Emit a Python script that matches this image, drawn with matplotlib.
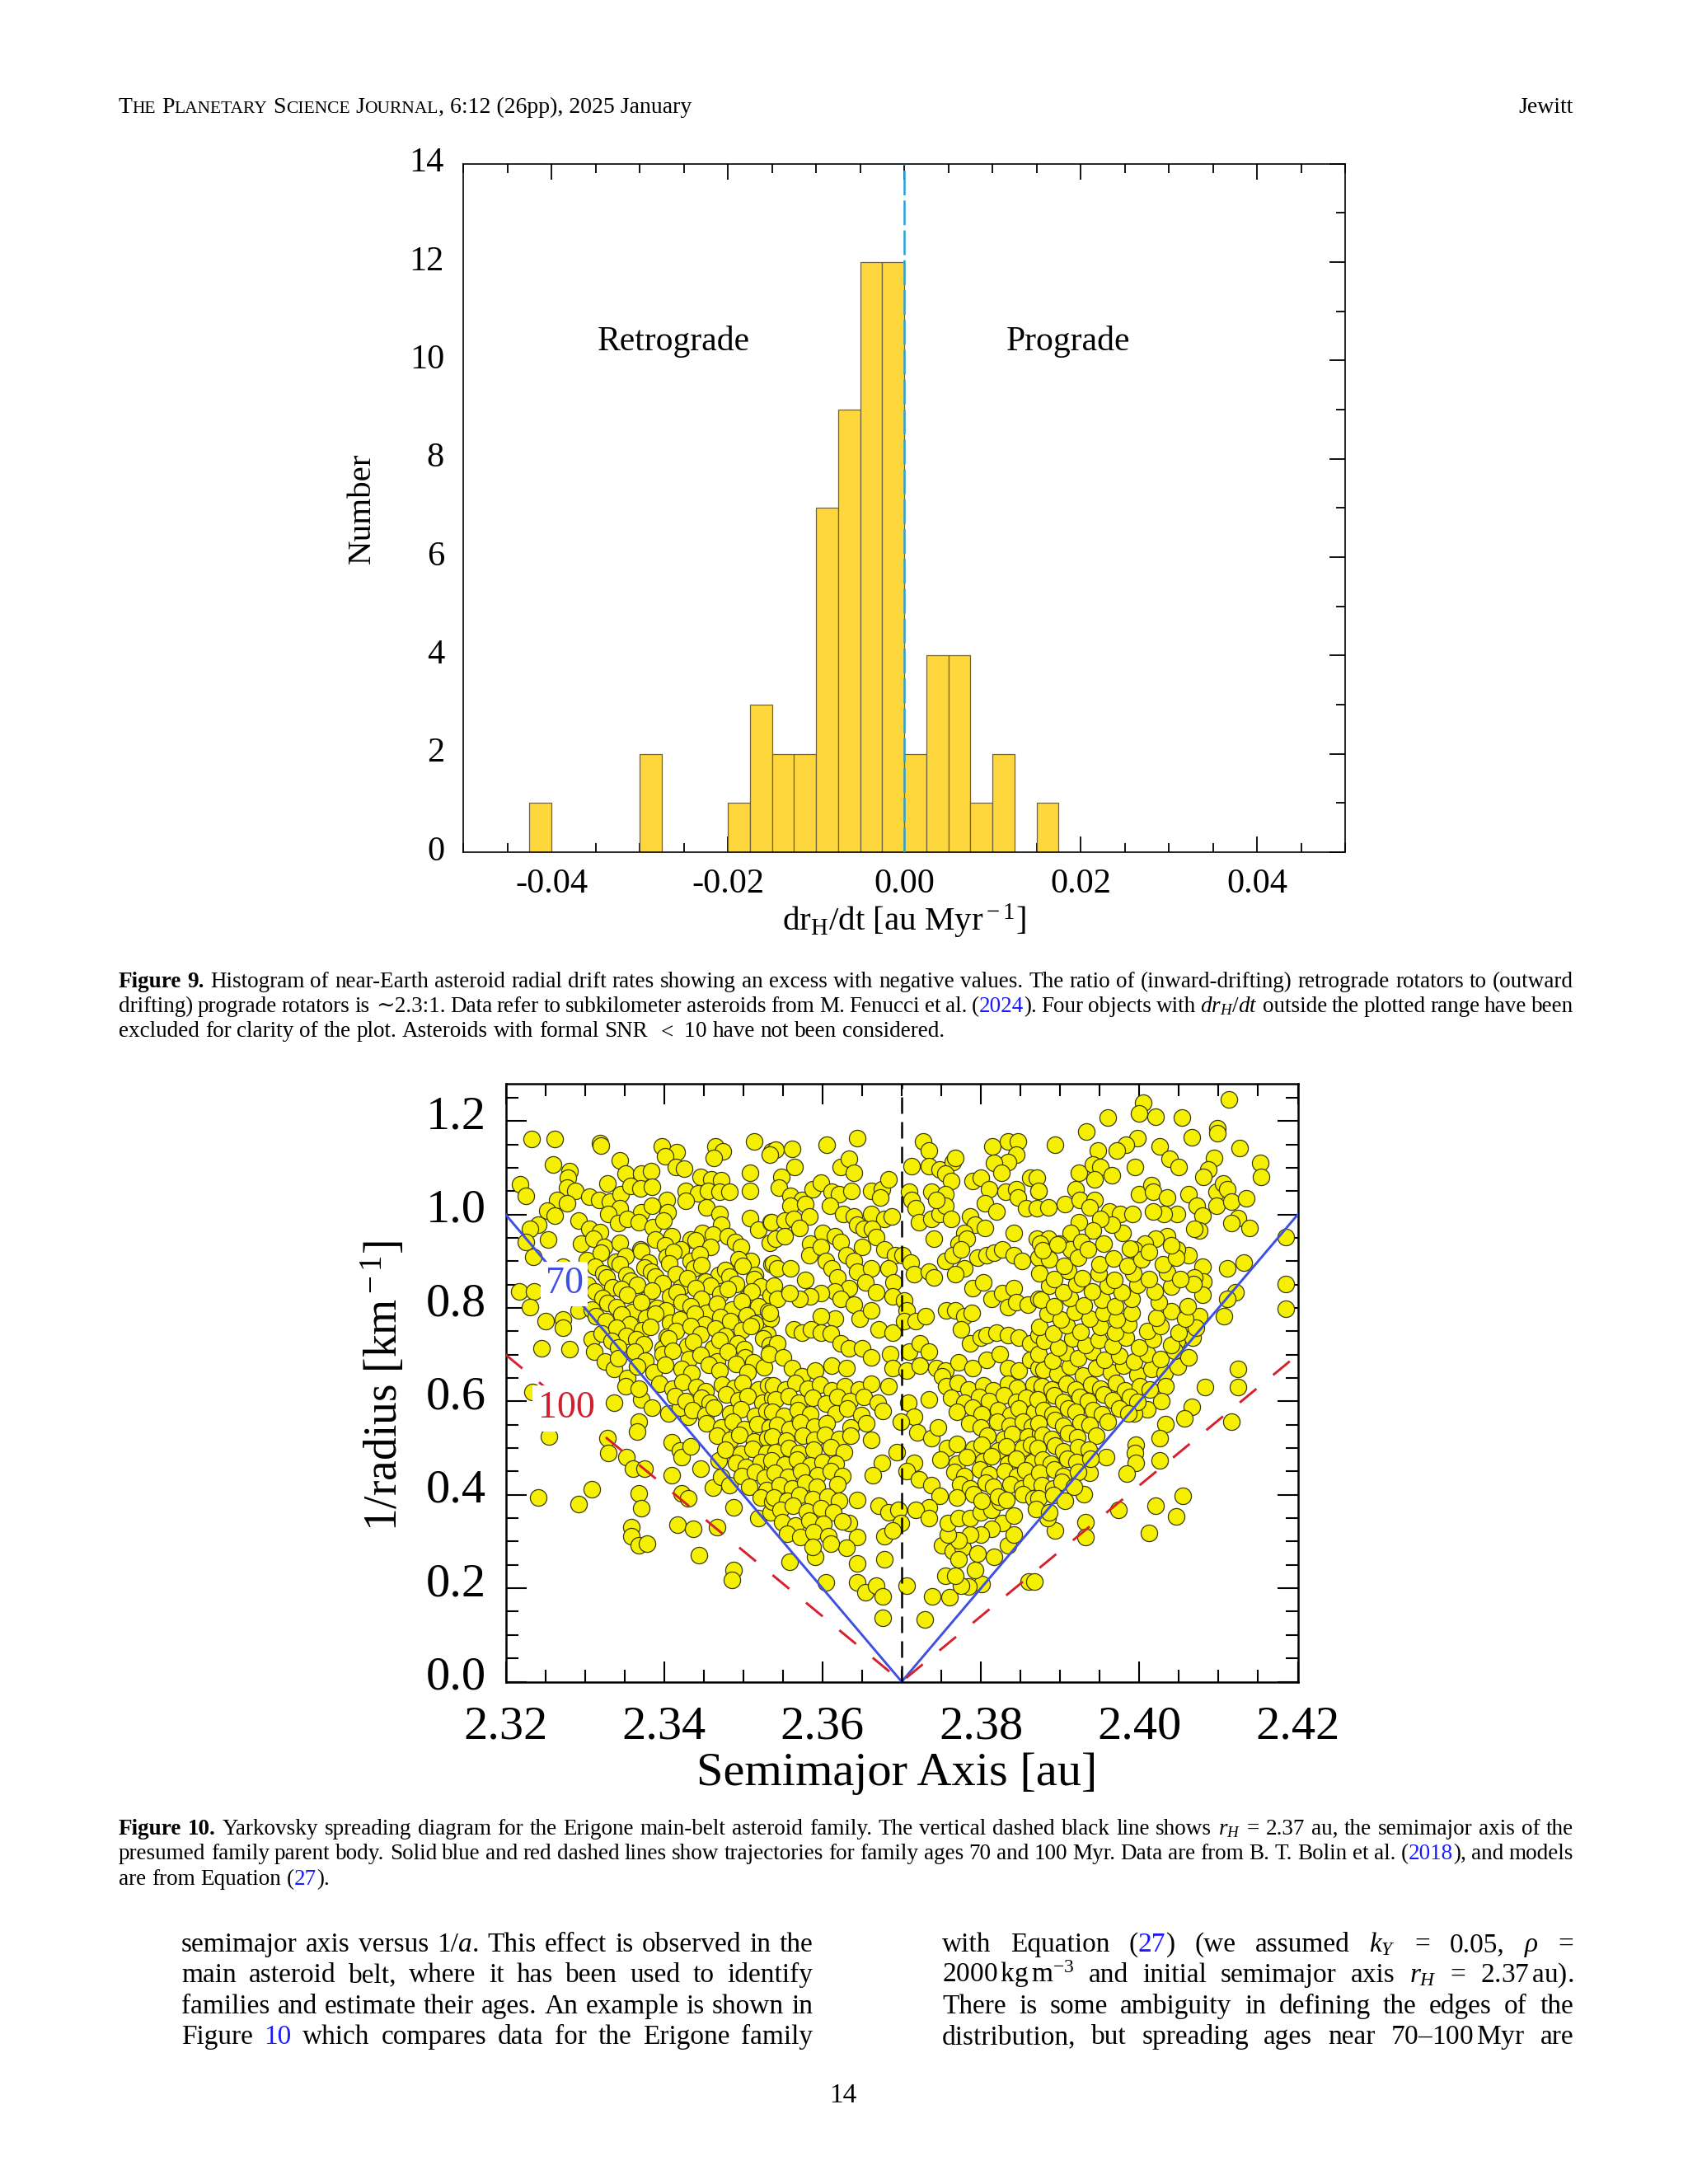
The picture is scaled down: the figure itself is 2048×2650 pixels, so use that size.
import numpy as np
import matplotlib
matplotlib.use("Agg")
import matplotlib.pyplot as plt
from matplotlib.ticker import MultipleLocator, FormatStrFormatter
from matplotlib.transforms import ScaledTranslation

plt.rcParams['font.family'] = ['Liberation Serif', 'DejaVu Serif']
plt.rcParams['mathtext.fontset'] = 'custom'
plt.rcParams['mathtext.rm'] = 'Liberation Serif'
plt.rcParams['mathtext.it'] = 'Liberation Serif:italic'
plt.rcParams['mathtext.bf'] = 'Liberation Serif:bold'
plt.rcParams['axes.unicode_minus'] = False

W, H = 2048, 2650

# Figure 9: histogram of drift rates (bin left edges, counts)
bin_left = [-0.0425, -0.03, -0.02, -0.0175, -0.015, -0.0125, -0.01, -0.0075,
            -0.005, -0.0025, 0.0, 0.0025, 0.005, 0.0075, 0.01, 0.015]
bin_counts = [1, 2, 1, 3, 2, 2, 7, 9, 12, 12, 2, 4, 4, 1, 2, 1]
BIN_WIDTH = 0.0025

# Figure 10: Erigone family, (semimajor axis [au], 1/radius [1/km])
upper_left = [
    (2.3233,1.162),(2.3262,1.162),(2.3319,1.153),(2.3320,1.147),(2.3397,1.146),(2.3416,1.134),
    (2.3401,1.124),(2.3415,1.102),(2.3425,1.099),(2.3465,1.146),(2.3474,1.136),(2.3463,1.122),
    (2.3514,1.157),(2.3536,1.136),(2.3344,1.116),(2.3260,1.107),(2.3281,1.093),(2.3279,1.079),
    (2.3218,1.065),(2.3226,1.040),(2.3328,1.066),(2.3351,1.087),(2.3371,1.087),(2.3384,1.093),
    (2.3446,1.081),(2.3460,1.075),(2.3472,1.073),(2.3509,1.090),(2.3427,1.051),(2.3443,1.046),
    (2.3455,1.050),(2.3470,1.049),(2.3482,1.049),(2.3509,1.051),(2.3427,1.030),(2.3453,1.016),
    (2.3278,1.057),(2.3288,1.051),(2.3265,1.031),(2.3278,1.024),(2.3306,1.038),(2.3318,1.031),
    (2.3332,1.028),(2.3345,1.044),(2.3358,1.061),(2.3370,1.056),(2.3385,1.059),(2.3403,1.031),
    (2.3404,1.004),(2.3344,1.013),(2.3371,1.004),(2.3385,1.019),(2.3470,1.001),(2.3472,0.979),
    (2.3509,0.993),(2.3519,0.967),(2.3535,0.984),(2.3253,1.008),(2.3262,0.998),(2.3241,0.979),
    (2.3231,0.969),(2.3225,0.941),(2.3254,0.947),(2.3235,0.910),(2.3292,0.987),(2.3295,0.937),
    (2.3306,0.969),(2.3319,0.963),(2.3330,1.001),(2.3342,0.981),(2.3354,0.990),(2.3368,0.983),
    (2.3386,0.973),(2.3399,0.988),(2.3410,0.953),(2.3434,0.947),(2.3448,0.960),(2.3462,0.957),
    (2.3480,0.953),(2.3490,0.942),(2.3497,0.930),(2.3510,0.901),(2.3515,0.871),(2.3533,0.940),
    (2.3536,0.894),(2.3272,0.889),(2.3217,0.836),(2.3236,0.836),(2.3231,0.801),(2.3250,0.772),
    (2.3272,0.775),(2.3272,0.757),(2.3245,0.714),(2.3281,0.712),(2.3309,0.733),(2.3312,0.707),
    (2.3325,0.686),(2.3337,0.669),(2.3354,0.651),(2.3292,0.795),
    (2.3311,0.948),(2.3324,0.931),(2.3344,0.940),(2.3370,0.925),(2.3389,0.946),(2.3401,0.934),
    (2.3421,0.926),(2.3440,0.944),(2.3459,0.930),
    (2.3303,0.903),(2.3320,0.918),(2.3339,0.899),(2.3351,0.912),(2.3371,0.921),(2.3381,0.897),
    (2.3403,0.909),(2.3412,0.920),(2.3434,0.901),(2.3445,0.915),(2.3494,0.905),
    (2.3313,0.889),(2.3323,0.875),(2.3344,0.893),(2.3352,0.871),(2.3375,0.886),(2.3384,0.878),
    (2.3407,0.895),(2.3415,0.873),(2.3438,0.884),(2.3447,0.892),(2.3469,0.870),(2.3477,0.881),
    (2.3499,0.890),
    (2.3304,0.850),(2.3327,0.866),(2.3335,0.845),(2.3358,0.859),(2.3366,0.849),(2.3389,0.868),
    (2.3398,0.853),(2.3421,0.844),(2.3429,0.864),(2.3452,0.856),(2.3459,0.847),(2.3483,0.867),
    (2.3491,0.852),(2.3514,0.861),(2.3522,0.846),
    (2.3313,0.836),(2.3322,0.822),(2.3346,0.840),(2.3354,0.829),(2.3377,0.818),(2.3385,0.838),
    (2.3408,0.824),(2.3416,0.833),(2.3440,0.843),(2.3447,0.819),(2.3471,0.830),(2.3480,0.841),
    (2.3504,0.821),(2.3511,0.835),(2.3535,0.826),
    (2.3309,0.797),(2.3328,0.811),(2.3340,0.802),(2.3360,0.791),(2.3371,0.813),(2.3391,0.800),
    (2.3402,0.794),(2.3422,0.812),(2.3434,0.803),(2.3453,0.790),(2.3467,0.809),(2.3486,0.797),
    (2.3498,0.814),(2.3519,0.804),(2.3531,0.793),
    (2.3314,0.782),(2.3326,0.771),(2.3346,0.786),(2.3357,0.765),(2.3377,0.779),(2.3389,0.788),
    (2.3408,0.768),(2.3420,0.776),(2.3439,0.787),(2.3451,0.764),(2.3471,0.780),(2.3484,0.772),
    (2.3504,0.785),(2.3515,0.767),(2.3535,0.778),
    (2.3321,0.745),(2.3340,0.758),(2.3352,0.741),(2.3372,0.753),(2.3383,0.760),(2.3403,0.739),
    (2.3415,0.750),(2.3434,0.761),(2.3446,0.743),(2.3465,0.756),(2.3477,0.740),(2.3498,0.752),
    (2.3510,0.762),(2.3530,0.744),
    (2.3334,0.729),(2.3342,0.716),(2.3365,0.733),(2.3374,0.722),(2.3398,0.713),(2.3406,0.735),
    (2.3429,0.719),(2.3437,0.727),(2.3462,0.714),(2.3470,0.731),(2.3493,0.724),(2.3501,0.712),
    (2.3525,0.734),(2.3533,0.720),
    (2.3342,0.693),(2.3363,0.706),(2.3376,0.688),(2.3398,0.701),(2.3411,0.709),(2.3432,0.690),
    (2.3446,0.699),(2.3467,0.686),(2.3480,0.707),(2.3502,0.695),(2.3513,0.684),(2.3533,0.704),
    (2.3366,0.675),(2.3387,0.663),(2.3401,0.679),(2.3422,0.670),(2.3435,0.660),(2.3457,0.678),
    (2.3470,0.666),(2.3491,0.681),(2.3505,0.662),(2.3526,0.673),
]

upper_mid = [
    (2.3644,1.163),(2.3605,1.149),(2.3541,1.138),(2.3534,1.128),(2.3562,1.140),(2.3565,1.102),
    (2.3623,1.102),(2.3633,1.119),(2.3640,1.090),(2.3548,1.081),(2.3545,1.057),(2.3560,1.040),
    (2.3574,1.031),(2.3588,1.054),(2.3598,1.069),(2.3612,1.049),(2.3621,1.043),(2.3637,1.051),
    (2.3661,1.051),(2.3675,1.054),(2.3683,1.075),(2.3673,1.037),(2.3560,1.019),(2.3578,1.022),
    (2.3609,1.019),(2.3626,1.001),(2.3640,0.996),(2.3661,1.001),(2.3678,0.990),(2.3687,0.996),
    (2.3536,0.984),(2.3552,0.987),(2.3564,0.990),(2.3583,0.996),(2.3571,0.972),(2.3541,0.948),
    (2.3552,0.954),(2.3585,0.937),(2.3600,0.960),(2.3616,0.954),(2.3623,0.942),(2.3644,0.978),
    (2.3652,0.969),(2.3663,0.969),(2.3668,0.951),(2.3650,0.931),(2.3678,0.925),(2.3692,0.913),
    (2.3701,0.913),(2.3711,0.898),(2.3716,0.872),(2.3734,0.878),(2.3741,0.866),(2.3683,0.884),
    (2.3690,0.854),(2.3689,0.825),(2.3703,0.816),(2.3706,0.795),(2.3538,0.895),(2.3543,0.884),
    (2.3560,0.884),(2.3578,0.860),(2.3583,0.913),(2.3598,0.931),(2.3604,0.901),(2.3612,0.884),
    (2.3619,0.866),(2.3630,0.913),(2.3640,0.901),(2.3644,0.878),(2.3661,0.884),(2.3654,0.854),
    (2.3668,0.834),(2.3633,0.842),(2.3616,0.836),(2.3598,0.831),(2.3585,0.825),(2.3571,0.819),
    (2.3539,0.848),(2.3543,0.819),(2.3534,0.789),(2.3558,0.831),(2.3623,0.819),(2.3640,0.807),
    (2.3647,0.778),(2.3616,0.778),(2.3598,0.783),(2.3661,0.795),(2.3671,0.754),(2.3689,0.748),
    (2.3703,0.772),(2.3718,0.772),(2.3730,0.783),(2.3564,0.754),(2.3574,0.748),(2.3586,0.754),
    (2.3598,0.748),(2.3611,0.745),(2.3623,0.725),(2.3633,0.713),(2.3650,0.713),(2.3661,0.695),
    (2.3685,0.701),(2.3543,0.725),(2.3532,0.701),(2.3550,0.695),(2.3562,0.672),(2.3574,0.654),
    (2.3591,0.666),(2.3612,0.677),(2.3630,0.672),(2.3689,0.672),(2.3706,0.666),(2.3709,0.707),
    (2.3723,0.725),(2.3734,0.707),(2.3744,0.672),(2.3755,0.666),(2.3772,0.683),(2.3789,0.672),
    (2.3807,0.689),(2.3824,0.701),(2.3834,0.672),(2.3848,0.666),(2.3862,0.689),(2.3873,0.672),
    (2.3727,1.157),(2.3734,1.137),(2.3713,1.103),(2.3734,1.104),(2.3748,1.096),(2.3765,1.113),
    (2.3768,1.122),(2.3755,1.087),(2.3762,1.072),(2.3737,1.049),(2.3755,1.043),(2.3709,1.049),
    (2.3713,1.031),(2.3718,1.013),(2.3722,0.984),(2.3737,0.990),(2.3748,1.001),(2.3755,1.019),
    (2.3762,0.990),(2.3744,1.031),(2.3814,1.146),(2.3834,1.157),(2.3847,1.157),(2.3845,1.128),
    (2.3834,1.113),(2.3817,1.110),(2.3826,1.090),(2.3789,1.072),(2.3800,1.078),(2.3810,1.054),
    (2.3805,1.025),(2.3820,1.007),(2.3831,1.049),(2.3845,1.054),(2.3847,1.037),(2.3857,1.013),
    (2.3862,1.078),(2.3873,1.051),(2.3871,1.013),(2.3786,0.996),(2.3793,0.978),(2.3805,0.972),
    (2.3779,0.960),(2.3772,0.937),(2.3782,0.948),(2.3741,0.948),(2.3841,0.960),(2.3871,0.948),
    (2.3755,0.901),(2.3765,0.913),(2.3775,0.925),(2.3779,0.884),(2.3768,0.872),(2.3796,0.907),
    (2.3807,0.913),(2.3817,0.919),(2.3827,0.925),(2.3841,0.913),(2.3852,0.901),(2.3873,0.907),
    (2.3789,0.842),(2.3803,0.854),(2.3813,0.819),(2.3827,0.831),(2.3841,0.842),(2.3834,0.801),
    (2.3845,0.813),(2.3859,0.807),(2.3873,0.819),(2.3756,0.795),(2.3768,0.795),(2.3779,0.783),
    (2.3788,0.789),(2.3775,0.754),(2.3786,0.725),(2.3800,0.736),(2.3807,0.742),(2.3820,0.748),
    (2.3834,0.742),(2.3848,0.736),(2.3862,0.725),(2.3873,0.742),(2.3723,0.677),(2.3751,0.654),
]

upper_right = [
    (2.4005,1.240),(2.4000,1.216),(2.4021,1.210),(2.4054,1.208),(2.4113,1.246),(2.3960,1.208),
    (2.3933,1.178),(2.3894,1.150),(2.3998,1.163),(2.3983,1.149),(2.3972,1.137),(2.3948,1.137),
    (2.4026,1.146),(2.4038,1.119),(2.4050,1.102),(2.4066,1.166),(2.4099,1.184),(2.4099,1.175),
    (2.4127,1.143),(2.4153,1.110),(2.4154,1.081),(2.4094,1.122),(2.4087,1.096),(2.4081,1.081),
    (2.3995,1.102),(2.3924,1.090),(2.3941,1.107),(2.3951,1.102),(2.3965,1.084),(2.3943,1.075),
    (2.3871,1.078),(2.3873,1.051),(2.3885,1.016),(2.3906,1.022),(2.3920,1.054),(2.3925,1.031),
    (2.3944,1.031),(2.3937,1.016),(2.3962,1.007),(2.3976,1.001),(2.3991,1.001),(2.4000,1.043),
    (2.4015,1.063),(2.4017,1.049),(2.4035,1.037),(2.4062,1.043),(2.4073,1.019),(2.4080,0.998),
    (2.4097,1.049),(2.4106,1.066),(2.4111,1.054),(2.4097,1.019),(2.4116,1.028),(2.4135,1.034),
    (2.4125,0.993),(2.4116,0.981),(2.4139,0.972),(2.4076,0.966),(2.4069,0.969),(2.4048,1.001),
    (2.4031,1.001),(2.4017,1.007),(2.4185,0.951),(2.4185,0.851),(2.4185,0.798),(2.4111,0.884),
    (2.4132,0.898),(2.4121,0.834),(2.4111,0.819),(2.4107,0.783),(2.4080,0.889),(2.4081,0.857),
    (2.4080,0.828),(2.4062,0.913),(2.4048,0.925),(2.4035,0.954),(2.4021,0.948),(2.4007,0.937),
    (2.3993,0.925),(2.3979,0.960),(2.3965,0.978),(2.3951,0.990),(2.3941,0.966),(2.3924,0.984),
    (2.3913,0.960),(2.3899,0.937),(2.3885,0.948),(2.3875,0.937),(2.3913,0.925),(2.3927,0.942),
    (2.4069,0.866),(2.4076,0.783),(2.4125,0.669),(2.4062,0.760),(2.4048,0.730),
    (2.3879,0.668),(2.3897,0.659),(2.3912,0.674),(2.3929,0.656),(2.3946,0.672),(2.3964,0.662),
    (2.3980,0.677),(2.3998,0.658),(2.4015,0.669),(2.4032,0.660),(2.4049,0.675),
    (2.3873,0.701),(2.3890,0.688),(2.3907,0.705),(2.3923,0.692),(2.3940,0.707),(2.3956,0.689),
    (2.3975,0.698),(2.3993,0.686),(2.4010,0.702),(2.4027,0.690),(2.4044,0.708),(2.4062,0.695),
    (2.3880,0.729),(2.3898,0.716),(2.3915,0.735),(2.3932,0.720),(2.3949,0.731),(2.3966,0.719),
    (2.3983,0.737),(2.4000,0.716),(2.4017,0.733),(2.4040,0.721),(2.4067,0.736),
    (2.3874,0.759),(2.3891,0.746),(2.3908,0.763),(2.3926,0.749),(2.3951,0.760),(2.3969,0.747),
    (2.3986,0.765),(2.4010,0.750),(2.4027,0.762),(2.4050,0.748),(2.4072,0.758),
    (2.3884,0.788),(2.3901,0.775),(2.3919,0.792),(2.3937,0.778),(2.3955,0.790),(2.3972,0.776),
    (2.3990,0.789),(2.4022,0.779),(2.4040,0.793),(2.4058,0.777),
    (2.3876,0.817),(2.3893,0.803),(2.3912,0.821),(2.3930,0.806),(2.3953,0.818),(2.3970,0.804),
    (2.3990,0.820),(2.4025,0.813),(2.4061,0.804),
    (2.3886,0.847),(2.3904,0.833),(2.3921,0.851),(2.3940,0.836),(2.3960,0.848),(2.3978,0.833),
    (2.3998,0.850),(2.4019,0.836),(2.4040,0.846),(2.4068,0.852),
    (2.3874,0.874),(2.3893,0.861),(2.3910,0.879),(2.3928,0.864),(2.3949,0.875),(2.3968,0.860),
    (2.3992,0.874),(2.4012,0.861),(2.4035,0.876),(2.4052,0.862),
    (2.3886,0.904),(2.3905,0.890),(2.3923,0.908),(2.3950,0.894),(2.3967,0.906),(2.3985,0.890),
    (2.4003,0.905),(2.4030,0.894),(2.4046,0.907),
    (2.3878,0.924),(2.3897,0.936),(2.3935,0.926),(2.3955,0.938),(2.3988,0.928),(2.4012,0.920),
    (2.4040,0.934),
]

lower_left = [
    (2.3255,0.524),(2.3234,0.621),(2.3337,0.598),(2.3328,0.521),(2.3330,0.489),(2.3352,0.480),
    (2.3361,0.456),(2.3375,0.456),(2.3368,0.557),(2.3366,0.536),(2.3371,0.604),(2.3385,0.586),
    (2.3406,0.574),(2.3430,0.568),(2.3420,0.586),(2.3410,0.512),(2.3420,0.495),(2.3422,0.480),
    (2.3434,0.504),(2.3446,0.456),(2.3410,0.442),(2.3469,0.474),(2.3462,0.415),(2.3472,0.439),
    (2.3482,0.421),(2.3488,0.374),(2.3519,0.350),(2.3535,0.362),(2.3368,0.403),(2.3371,0.371),
    (2.3359,0.330),(2.3359,0.312),(2.3368,0.292),(2.3378,0.295),(2.3417,0.336),(2.3437,0.327),
    (2.3467,0.330),(2.3422,0.403),(2.3430,0.392),(2.3444,0.271),(2.3488,0.239),(2.3486,0.218),
    (2.3241,0.395),(2.3292,0.380),(2.3309,0.412),(2.3351,0.633),(2.3368,0.627),
    (2.3394,0.638),(2.3411,0.627),(2.3423,0.641),(2.3441,0.631),(2.3452,0.622),(2.3473,0.636),
    (2.3489,0.629),(2.3499,0.640),(2.3519,0.626),(2.3531,0.634),
    (2.3414,0.611),(2.3427,0.600),(2.3447,0.608),(2.3458,0.597),(2.3478,0.614),(2.3494,0.603),
    (2.3505,0.612),(2.3524,0.598),(2.3537,0.607),
    (2.3436,0.582),(2.3452,0.571),(2.3463,0.586),(2.3484,0.574),(2.3497,0.583),(2.3515,0.569),
    (2.3529,0.579),
    (2.3453,0.553),(2.3472,0.544),(2.3487,0.556),(2.3501,0.541),(2.3518,0.552),(2.3533,0.545),
    (2.3467,0.526),(2.3484,0.517),(2.3495,0.529),(2.3514,0.514),(2.3530,0.522),
    (2.3477,0.496),(2.3497,0.487),(2.3512,0.499),(2.3529,0.489),
    (2.3491,0.469),(2.3503,0.460),(2.3522,0.471),(2.3537,0.458),
    (2.3498,0.441),(2.3515,0.449),(2.3527,0.436),(2.3508,0.418),(2.3529,0.411),
    (2.3522,0.394),(2.3537,0.385),
]

lower_mid = [
    (2.3683,0.633),(2.3734,0.604),(2.3708,0.598),(2.3716,0.568),(2.3699,0.557),(2.3720,0.533),
    (2.3737,0.521),(2.3746,0.545),(2.3661,0.518),(2.3694,0.492),(2.3675,0.468),(2.3664,0.442),
    (2.3716,0.468),(2.3706,0.451),(2.3722,0.433),(2.3737,0.421),(2.3748,0.398),(2.3734,0.374),
    (2.3718,0.368),(2.3734,0.350),(2.3671,0.377),(2.3683,0.362),(2.3696,0.368),(2.3699,0.339),
    (2.3678,0.312),(2.3689,0.324),(2.3644,0.389),(2.3644,0.309),(2.3633,0.339),(2.3630,0.286),
    (2.3591,0.268),(2.3558,0.256),(2.3604,0.212),(2.3644,0.253),(2.3644,0.212),(2.3654,0.191),
    (2.3668,0.206),(2.3676,0.183),(2.3678,0.262),(2.3706,0.206),(2.3739,0.183),(2.3760,0.180),
    (2.3676,0.136),(2.3729,0.133),(2.3860,0.215),(2.3801,0.209),(2.3784,0.203),(2.3775,0.206),
    (2.3755,0.227),(2.3768,0.227),(2.3793,0.239),(2.3751,0.292),(2.3765,0.280),(2.3777,0.286),
    (2.3772,0.262),(2.3796,0.274),(2.3817,0.268),(2.3834,0.292),(2.3841,0.315),(2.3827,0.339),
    (2.3813,0.327),(2.3800,0.315),(2.3786,0.315),(2.3772,0.303),(2.3758,0.315),(2.3758,0.339),
    (2.3772,0.350),(2.3786,0.350),(2.3800,0.362),(2.3813,0.368),(2.3824,0.386),(2.3841,0.356),
    (2.3538,0.634),(2.3553,0.625),(2.3566,0.639),(2.3581,0.628),(2.3597,0.636),(2.3612,0.624),
    (2.3628,0.633),(2.3646,0.626),(2.3661,0.638),
    (2.3541,0.604),(2.3557,0.612),(2.3570,0.598),(2.3588,0.607),(2.3604,0.596),(2.3619,0.610),
    (2.3634,0.601),(2.3652,0.609),(2.3670,0.598),
    (2.3537,0.578),(2.3551,0.569),(2.3569,0.581),(2.3585,0.572),(2.3617,0.574),(2.3631,0.584),
    (2.3649,0.570),(2.3676,0.580),
    (2.3543,0.550),(2.3559,0.541),(2.3572,0.555),(2.3590,0.546),(2.3605,0.553),(2.3636,0.545),
    (2.3655,0.553),
    (2.3537,0.524),(2.3554,0.516),(2.3575,0.527),(2.3590,0.518),(2.3603,0.529),(2.3621,0.519),
    (2.3636,0.526),
    (2.3541,0.491),(2.3557,0.500),(2.3570,0.489),(2.3589,0.497),(2.3611,0.502),(2.3627,0.492),
    (2.3536,0.473),(2.3552,0.465),(2.3568,0.476),(2.3584,0.463),(2.3600,0.471),(2.3617,0.466),
    (2.3540,0.447),(2.3556,0.439),(2.3573,0.450),(2.3594,0.442),(2.3610,0.451),(2.3625,0.440),
    (2.3546,0.421),(2.3562,0.414),(2.3578,0.426),(2.3593,0.418),(2.3619,0.423),
    (2.3539,0.395),(2.3555,0.388),(2.3571,0.399),(2.3588,0.391),(2.3606,0.396),(2.3621,0.387),
    (2.3547,0.368),(2.3563,0.376),(2.3580,0.364),(2.3598,0.372),(2.3614,0.362),
    (2.3549,0.342),(2.3566,0.334),(2.3583,0.345),(2.3601,0.338),(2.3625,0.343),
    (2.3555,0.316),(2.3572,0.309),(2.3589,0.320),(2.3607,0.312),
    (2.3588,0.289),(2.3610,0.296),
    (2.3756,0.632),(2.3771,0.640),(2.3784,0.626),(2.3803,0.635),(2.3815,0.623),(2.3834,0.638),
    (2.3846,0.629),(2.3866,0.636),(2.3877,0.625),
    (2.3762,0.607),(2.3779,0.598),(2.3798,0.610),(2.3810,0.601),(2.3829,0.613),(2.3845,0.599),
    (2.3857,0.608),(2.3875,0.602),
    (2.3770,0.578),(2.3790,0.586),(2.3801,0.573),(2.3822,0.582),(2.3837,0.571),(2.3848,0.584),
    (2.3868,0.577),
    (2.3785,0.553),(2.3800,0.545),(2.3821,0.556),(2.3836,0.548),(2.3853,0.556),(2.3864,0.546),
    (2.3808,0.527),(2.3829,0.519),(2.3839,0.531),(2.3859,0.524),(2.3875,0.532),
    (2.3757,0.500),(2.3770,0.509),(2.3791,0.498),(2.3801,0.507),(2.3822,0.495),(2.3832,0.504),
    (2.3853,0.500),(2.3863,0.508),
    (2.3749,0.475),(2.3770,0.467),(2.3782,0.480),(2.3803,0.472),(2.3813,0.482),(2.3834,0.467),
    (2.3845,0.478),(2.3865,0.471),
    (2.3767,0.449),(2.3779,0.441),(2.3799,0.454),(2.3810,0.444),(2.3830,0.451),(2.3846,0.440),
    (2.3856,0.452),(2.3876,0.446),
    (2.3774,0.422),(2.3786,0.414),(2.3806,0.426),(2.3816,0.418),(2.3837,0.423),(2.3852,0.413),
    (2.3863,0.427),
    (2.3770,0.395),(2.3791,0.401),(2.3801,0.387),(2.3822,0.396),(2.3832,0.389),(2.3853,0.401),
    (2.3866,0.393),
]

lower_right = [
    (2.4033,0.633),(2.4083,0.630),(2.4125,0.630),(2.4066,0.589),(2.4057,0.563),(2.4116,0.557),
    (2.4033,0.551),(2.4026,0.521),(2.3996,0.507),(2.3995,0.489),(2.3996,0.468),(2.4026,0.474),
    (2.3984,0.445),(2.3958,0.480),(2.3937,0.448),(2.3930,0.401),(2.3974,0.368),(2.3932,0.342),
    (2.3932,0.309),(2.3894,0.324),(2.3884,0.350),(2.4021,0.377),(2.4055,0.398),(2.4047,0.353),
    (2.4012,0.318),(2.3868,0.215),(2.4010,0.583),(2.4028,0.601),(2.3993,0.574),
    (2.3877,0.633),(2.3889,0.625),(2.3908,0.638),(2.3920,0.626),(2.3939,0.636),(2.3951,0.628),
    (2.3971,0.639),(2.3982,0.624),(2.4001,0.632),(2.4013,0.626),
    (2.3872,0.605),(2.3893,0.613),(2.3904,0.599),(2.3925,0.609),(2.3935,0.600),(2.3955,0.614),
    (2.3966,0.602),(2.3988,0.610),(2.3998,0.599),
    (2.3879,0.581),(2.3890,0.573),(2.3910,0.585),(2.3920,0.577),(2.3941,0.582),(2.3953,0.572),
    (2.3975,0.584),(2.3986,0.575),
    (2.3873,0.553),(2.3894,0.560),(2.3904,0.547),(2.3926,0.555),(2.3937,0.549),(2.3960,0.557),
    (2.3878,0.528),(2.3889,0.520),(2.3910,0.532),(2.3922,0.523),(2.3946,0.527),
    (2.3872,0.500),(2.3894,0.506),(2.3904,0.494),(2.3923,0.502),(2.3936,0.496),
    (2.3878,0.475),(2.3888,0.467),(2.3909,0.478),(2.3921,0.470),(2.3938,0.478),
    (2.3874,0.447),(2.3893,0.455),(2.3904,0.441),(2.3923,0.449),
    (2.3877,0.421),(2.3891,0.414),(2.3902,0.427),(2.3918,0.418),
    (2.3873,0.393),(2.3891,0.400),(2.3906,0.388),
    (2.3870,0.369),(2.3886,0.362),
]

# Yarkovsky spreading model: V from the parent body at 2.37 au
model_a = [2.32, 2.37, 2.42]
age70_r = [1.0, 0.0, 1.0]
age100_r = [0.7, 0.0, 0.7]
PARENT_A = 2.37

fig = plt.figure(figsize=(W / 100, H / 100), dpi=100)
renderer = fig.canvas.get_renderer()

STYLE = {
    'n': {},
    'b': {'fontweight': 'bold'},
    'i': {'fontstyle': 'italic'},
    'l': {'color': '#1a1aff'},
}


def make_words(runs):
    words = [[]]
    for txt, st in runs:
        for i, part in enumerate(txt.split(' ')):
            if i > 0:
                words.append([])
            if part:
                words[-1].append((part, st))
    return [w for w in words if w]


def set_line(runs, x0, x1, ybase, size, justify=True):
    # lay out a line of text word by word, stretched to fill x0..x1 (pixels)
    words = make_words(runs)
    placed = []
    total = 0.0
    for w in words:
        frags = []
        for txt, st in w:
            t = fig.text(0, 0, txt, fontsize=size, va='baseline', ha='left', **STYLE[st])
            frags.append((t, t.get_window_extent(renderer).width))
        placed.append(frags)
        total += sum(f[1] for f in frags)
    if justify and len(words) > 1:
        gap = (x1 - x0 - total) / (len(words) - 1)
    else:
        gap = 0.25 * size * 100 / 72
    x = x0
    for frags in placed:
        for t, wd in frags:
            t.set_position((x / W, 1 - ybase / H))
            x += wd
        x += gap


def set_seq(pieces, x0, ybase):
    x = x0
    for txt, size in pieces:
        if txt == ' ':
            x += 0.25 * size * 100 / 72
            continue
        t = fig.text(x / W, 1 - ybase / H, txt, fontsize=size, va='baseline', ha='left')
        x += t.get_window_extent(renderer).width


# running head (small caps)
big, small = 20, 15.5
set_seq([('T', big), ('HE', small), (' ', big), ('P', big), ('LANETARY', small), (' ', big),
         ('S', big), ('CIENCE', small), (' ', big), ('J', big), ('OURNAL', small),
         (', 6:12 (26pp), 2025 January', big)], 144, 137)
fig.text(1909 / W, 1 - 137 / H, 'Jewitt', fontsize=big, ha='right', va='baseline')

# ---- Figure 9 ----
ax1 = fig.add_axes([562 / W, 1 - 1034 / H, 1070 / W, (1034 - 198.5) / H])
ax1.bar(bin_left, bin_counts, width=BIN_WIDTH, align='edge', color='#FDD73C',
        edgecolor='#6e6240', linewidth=0.9, zorder=2)
ax1.axvline(0, color='#27A3DC', lw=1.8, dashes=(12, 2.5), zorder=3)
ax1.set_xlim(-0.05, 0.05)
ax1.set_ylim(0, 14)
ax1.xaxis.set_major_locator(MultipleLocator(0.02))
ax1.xaxis.set_minor_locator(MultipleLocator(0.005))
ax1.yaxis.set_major_locator(MultipleLocator(2))
ax1.yaxis.set_minor_locator(MultipleLocator(1))
ax1.xaxis.set_major_formatter(FormatStrFormatter('%.2f'))
ax1.tick_params(which='both', direction='in', top=True, right=True, left=False,
                labelsize=30.5, width=1.3, colors='black')
ax1.tick_params(which='major', length=14)
ax1.tick_params(which='minor', length=8)
ax1.tick_params(axis='x', pad=14)
ax1.tick_params(axis='y', pad=16.5)
for sp in ax1.spines.values():
    sp.set_linewidth(1.2)
ax1.text(-0.0261, 10.38, 'Retrograde', ha='center', va='center', fontsize=30)
ax1.text(0.0186, 10.38, 'Prograde', ha='center', va='center', fontsize=30)
ax1.set_xlabel(r'dr$_{\rm H}$/dt [au Myr$^{\rm -1}$]', fontsize=29.5)
ax1.xaxis.label.set_va('center')
ax1.xaxis.set_label_coords(0.5, -0.1005)
ax1.set_ylabel('Number', fontsize=29.5)
ax1.yaxis.label.set_va('center')
ax1.yaxis.set_label_coords(-0.115, 0.5)

cap = 19.5
set_line([('Figure 9.', 'b'), (' Histogram of near-Earth asteroid radial drift rates showing an excess '
          'with negative values. The ratio of (inward-drifting) retrograde rotators to (outward', 'n')],
         144, 1909, 1198, cap)
set_line([('drifting) prograde rotators is ', 'n'), ('$\\;$', 'n'),
          ('\u223c2.3:1. Data refer to subkilometer asteroids from M. Fenucci et al. (', 'n'),
          ('2024', 'l'),
          ('). Four objects with $dr_H/dt$ outside the plotted range have been', 'n')],
         144, 1909, 1228, cap)
set_line([('excluded for clarity of the plot. Asteroids with formal SNR $\\;<$ $\\;$10 have not been considered.', 'n')],
         144, 1909, 1258, cap, justify=False)

# ---- Figure 10 ----
points = upper_left + upper_mid + upper_right + lower_left + lower_mid + lower_right
semimajor = [p[0] for p in points]
inv_radius = [p[1] for p in points]

ax2 = fig.add_axes([613.5 / W, 1 - 2040.5 / H, 961 / W, 725.5 / H])
ax2.scatter(semimajor, inv_radius, s=210, c='#F4F000', edgecolors='#3d3a10',
            linewidths=0.9, zorder=2)
ax2.plot(model_a, age70_r, color='#3F4FE0', lw=2.1, zorder=3)
ax2.plot(model_a, age100_r, color='#D8202C', lw=2.1, dashes=(9, 9), zorder=3)
ax2.axvline(PARENT_A, color='black', lw=1.8, dashes=(8, 4), zorder=3)
ax2.text(2.3274, 0.851, '70', color='#3F4FE0', fontsize=33, ha='center', va='center',
         bbox=dict(facecolor='white', edgecolor='none', pad=4), zorder=5)
ax2.text(2.3277, 0.585, '100', color='#D0202E', fontsize=33, ha='center', va='center',
         bbox=dict(facecolor='white', edgecolor='none', pad=5), zorder=5)
ax2.set_xlim(2.32, 2.42)
ax2.set_ylim(0, 1.28)
ax2.xaxis.set_major_locator(MultipleLocator(0.02))
ax2.xaxis.set_minor_locator(MultipleLocator(0.005))
ax2.yaxis.set_major_locator(MultipleLocator(0.2))
ax2.yaxis.set_minor_locator(MultipleLocator(0.05))
ax2.xaxis.set_major_formatter(FormatStrFormatter('%.2f'))
ax2.yaxis.set_major_formatter(FormatStrFormatter('%.1f'))
ax2.tick_params(which='both', direction='in', top=True, right=True, labelsize=42, width=1.5)
ax2.tick_params(which='major', length=18)
ax2.tick_params(which='minor', length=10.5)
ax2.tick_params(axis='x', pad=21)
ax2.tick_params(axis='y', pad=17)
for sp in ax2.spines.values():
    sp.set_linewidth(1.8)
ax2.set_xlabel('Semimajor Axis [au]', fontsize=42)
ax2.xaxis.label.set_va('center')
ax2.xaxis.set_label_coords(0.494, -0.153)
ax2.set_ylabel(r'1/radius [km$^{\rm -1}$]', fontsize=40)
ax2.yaxis.label.set_va('center')
ax2.yaxis.set_label_coords(-0.1535, 0.494)

set_line([('Figure 10.', 'b'), (' Yarkovsky spreading diagram for the Erigone main-belt asteroid family. '
          'The vertical dashed black line shows $r_H$ = 2.37 au, the semimajor axis of the', 'n')],
         144, 1909, 2226, cap)
set_line([('presumed family parent body. Solid blue and red dashed lines show trajectories for family '
           'ages 70 and 100 Myr. Data are from B. T. Bolin et al. (', 'n'), ('2018', 'l'),
          ('), and models', 'n')], 144, 1909, 2256, cap)
set_line([('are from Equation (', 'n'), ('27', 'l'), (').', 'n')], 144, 1909, 2287, cap, justify=False)

# body text, two columns
body = 24
left_col = [
    [('semimajor axis versus 1/', 'n'), ('a', 'i'), ('. This effect is observed in the', 'n')],
    [('main asteroid belt, where it has been used to identify', 'n')],
    [('families and estimate their ages. An example is shown in', 'n')],
    [('Figure ', 'n'), ('10', 'l'), (' which compares data for the Erigone family', 'n')],
]
right_col = [
    [('with Equation (', 'n'), ('27', 'l'), (') (we assumed $k_Y$ = 0.05, $\\rho$ =', 'n')],
    [('$\\mathrm{2000\\,kg\\,m^{-3}}$ and initial semimajor axis $r_H$ = $\\mathrm{2.37\\,au}$).', 'n')],
    [('There is some ambiguity in defining the edges of the', 'n')],
    [('distribution, but spreading ages near 70\u2013100$\\,$Myr are', 'n')],
]
body_y = [2368, 2405, 2443, 2480]
for runs, yb in zip(left_col, body_y):
    set_line(runs, 220, 986, yb, body)
for runs, yb in zip(right_col, body_y):
    set_line(runs, 1143, 1909, yb, body)

fig.text(1023 / W, 1 - 2551 / H, '14', fontsize=body, ha='center', va='baseline')

# the original sets the y tick numbers slightly above their ticks
fig.canvas.draw()
for lab in ax1.get_yticklabels():
    lab.set_transform(lab.get_transform() + ScaledTranslation(0, 0.05, fig.dpi_scale_trans))
for lab in ax2.get_yticklabels():
    lab.set_transform(lab.get_transform() + ScaledTranslation(0, 0.11, fig.dpi_scale_trans))

fig.savefig('out.png', dpi=100)
